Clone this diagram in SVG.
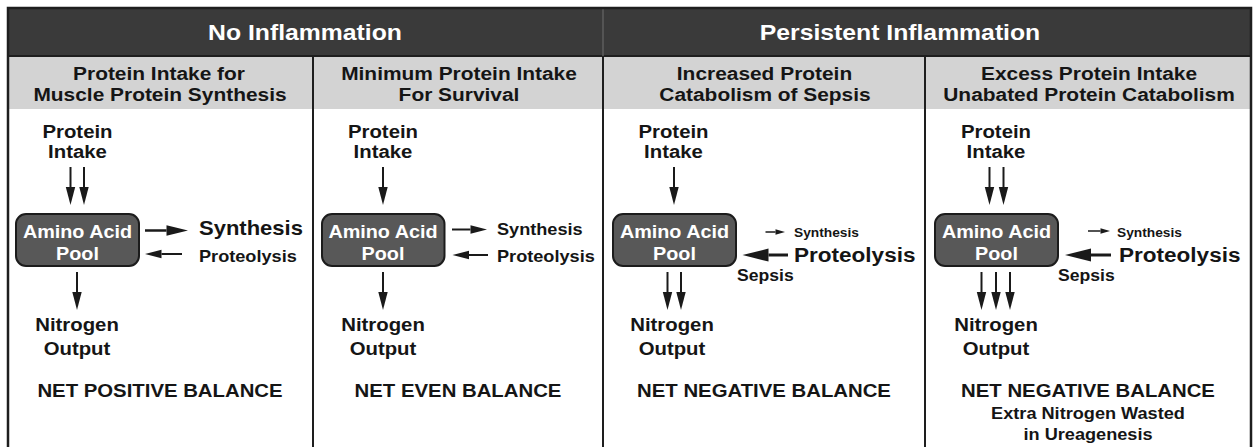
<svg xmlns="http://www.w3.org/2000/svg" width="1256" height="447" viewBox="0 0 1256 447">
<style>
text{font-family:"Liberation Sans",Arial,Helvetica,sans-serif;font-weight:bold;fill:#151515}
.hd{font-size:22.5px;fill:#ffffff}
.sh{font-size:19px}
.lb{font-size:18.5px}
.pl{font-size:18px;fill:#ffffff}
.md{font-size:16.5px}
.bg{font-size:20.5px}
.sm{font-size:12.5px}
.c{text-anchor:middle}
.pool{fill:#585858;stroke:#1c1c1c;stroke-width:2}
.ar{stroke:#1a1a1a;fill:none}
.frame{fill:none;stroke:#1e1e1e;stroke-width:2.5}
.div{stroke:#1e1e1e;stroke-width:2}
</style>
<defs>
<marker id="mStd" markerUnits="userSpaceOnUse" markerWidth="20" markerHeight="12" refX="0" refY="0" orient="auto" overflow="visible"><path d="M0,-4.7 L18,0 L0,4.7 z" fill="#1a1a1a"/></marker>
<marker id="mMid" markerUnits="userSpaceOnUse" markerWidth="20" markerHeight="12" refX="0" refY="0" orient="auto" overflow="visible"><path d="M0,-4.3 L16.5,0 L0,4.3 z" fill="#1a1a1a"/></marker>
<marker id="mBig" markerUnits="userSpaceOnUse" markerWidth="24" markerHeight="12" refX="0" refY="0" orient="auto" overflow="visible"><path d="M0,-5.2 L21.5,0 L0,5.2 z" fill="#1a1a1a"/></marker>
<marker id="mHuge" markerUnits="userSpaceOnUse" markerWidth="28" markerHeight="14" refX="0" refY="0" orient="auto" overflow="visible"><path d="M0,-6.5 L26,0 L0,6.5 z" fill="#1a1a1a"/></marker>
<marker id="mSm" markerUnits="userSpaceOnUse" markerWidth="10" markerHeight="6" refX="0" refY="0" orient="auto" overflow="visible"><path d="M0,-2.8 L9.5,0 L0,2.8 z" fill="#1a1a1a"/></marker>
</defs>
<rect x="0" y="0" width="1256" height="447" fill="#ffffff"/>
<g id="frame">
<rect x="8" y="8" width="1243" height="48" fill="#3a3a3a"/>
<rect x="8" y="56" width="1243" height="53" fill="#d3d3d3"/>
<line class="div" x1="8" y1="56" x2="1251" y2="56"/>
<line x1="603" y1="8" x2="603" y2="56" stroke="#5e5e5e" stroke-width="1.5"/>
<line class="div" x1="603" y1="56" x2="603" y2="447"/>
<line class="div" x1="313" y1="56" x2="313" y2="447"/>
<line class="div" x1="925" y1="56" x2="925" y2="447"/>
<rect class="frame" x="8" y="8" width="1243" height="450"/>
</g>
<g id="header-no-inflammation"><text class="hd c" transform="translate(305,40) scale(1.1,1)">No Inflammation</text></g>
<g id="header-persistent"><text class="hd c" transform="translate(900,40) scale(1.1,1)">Persistent Inflammation</text></g>
<g id="sub1"><text class="sh c" transform="translate(159,80) scale(1.1,1)">Protein Intake for</text><text class="sh c" transform="translate(160,100.5) scale(1.1,1)">Muscle Protein Synthesis</text></g>
<g id="sub2"><text class="sh c" transform="translate(459,80) scale(1.1,1)">Minimum Protein Intake</text><text class="sh c" transform="translate(459,100.5) scale(1.1,1)">For Survival</text></g>
<g id="sub3"><text class="sh c" transform="translate(764.5,80) scale(1.1,1)">Increased Protein</text><text class="sh c" transform="translate(765,100.5) scale(1.1,1)">Catabolism of Sepsis</text></g>
<g id="sub4"><text class="sh c" transform="translate(1089,80) scale(1.1,1)">Excess Protein Intake</text><text class="sh c" transform="translate(1089,100.5) scale(1.1,1)">Unabated Protein Catabolism</text></g>

<g id="p1-intake"><text class="lb c" transform="translate(77.5,138) scale(1.1,1)">Protein</text><text class="lb c" transform="translate(77.5,158) scale(1.1,1)">Intake</text></g>
<g id="p1-pool"><rect class="pool" x="16" y="214" width="123" height="52" rx="10"/><text class="pl c" transform="translate(77.5,237.5) scale(1.1,1)">Amino Acid</text><text class="pl c" transform="translate(77.5,259.5) scale(1.1,1)">Pool</text></g>
<g id="p1-synthesis"><text class="bg" transform="translate(199,235) scale(1.1,1)" style="font-size:20px">Synthesis</text></g>
<g id="p1-proteolysis"><text class="md" transform="translate(199,261.7) scale(1.1,1)">Proteolysis</text></g>
<g id="p1-output"><text class="lb c" transform="translate(77,330.5) scale(1.1,1)">Nitrogen</text><text class="lb c" transform="translate(77,355) scale(1.1,1)">Output</text></g>
<g id="p1-balance"><text class="lb c" transform="translate(160,397.3) scale(1.1,1)">NET POSITIVE BALANCE</text></g>

<g id="p2-intake"><text class="lb c" transform="translate(383,138) scale(1.1,1)">Protein</text><text class="lb c" transform="translate(383,158) scale(1.1,1)">Intake</text></g>
<g id="p2-pool"><rect class="pool" x="322" y="214" width="122.5" height="52" rx="10"/><text class="pl c" transform="translate(383,237.5) scale(1.1,1)">Amino Acid</text><text class="pl c" transform="translate(383,259.5) scale(1.1,1)">Pool</text></g>
<g id="p2-synthesis"><text class="md" transform="translate(497,235) scale(1.1,1)">Synthesis</text></g>
<g id="p2-proteolysis"><text class="md" transform="translate(497,261.7) scale(1.1,1)">Proteolysis</text></g>
<g id="p2-output"><text class="lb c" transform="translate(383,330.5) scale(1.1,1)">Nitrogen</text><text class="lb c" transform="translate(383,355) scale(1.1,1)">Output</text></g>
<g id="p2-balance"><text class="lb c" transform="translate(458,397.3) scale(1.1,1)">NET EVEN BALANCE</text></g>

<g id="p3-intake"><text class="lb c" transform="translate(673.5,138) scale(1.1,1)">Protein</text><text class="lb c" transform="translate(673.5,158) scale(1.1,1)">Intake</text></g>
<g id="p3-pool"><rect class="pool" x="613" y="214" width="123" height="52" rx="10"/><text class="pl c" transform="translate(674.5,237.5) scale(1.1,1)">Amino Acid</text><text class="pl c" transform="translate(674.5,259.5) scale(1.1,1)">Pool</text></g>
<g id="p3-synthesis"><text class="sm" transform="translate(794,236.7) scale(1.1,1)">Synthesis</text></g>
<g id="p3-proteolysis"><text class="bg" transform="translate(794,261.7) scale(1.1,1)">Proteolysis</text></g>
<g id="p3-sepsis"><text class="md" transform="translate(737,280.7) scale(1.1,1)" style="font-size:16px">Sepsis</text></g>
<g id="p3-output"><text class="lb c" transform="translate(672,330.5) scale(1.1,1)">Nitrogen</text><text class="lb c" transform="translate(672,355) scale(1.1,1)">Output</text></g>
<g id="p3-balance"><text class="lb c" transform="translate(764,397.3) scale(1.1,1)">NET NEGATIVE BALANCE</text></g>

<g id="p4-intake"><text class="lb c" transform="translate(996,138) scale(1.1,1)">Protein</text><text class="lb c" transform="translate(996,158) scale(1.1,1)">Intake</text></g>
<g id="p4-pool"><rect class="pool" x="935" y="214" width="123" height="52" rx="10"/><text class="pl c" transform="translate(996.5,237.5) scale(1.1,1)">Amino Acid</text><text class="pl c" transform="translate(996.5,259.5) scale(1.1,1)">Pool</text></g>
<g id="p4-synthesis"><text class="sm" transform="translate(1117,236.7) scale(1.1,1)">Synthesis</text></g>
<g id="p4-proteolysis"><text class="bg" transform="translate(1119,261.7) scale(1.1,1)">Proteolysis</text></g>
<g id="p4-sepsis"><text class="md" transform="translate(1058,280.7) scale(1.1,1)" style="font-size:16px">Sepsis</text></g>
<g id="p4-output"><text class="lb c" transform="translate(996,330.5) scale(1.1,1)">Nitrogen</text><text class="lb c" transform="translate(996,355) scale(1.1,1)">Output</text></g>
<g id="p4-balance"><text class="lb c" transform="translate(1088,397.3) scale(1.1,1)">NET NEGATIVE BALANCE</text><text class="md c" transform="translate(1088,419.3) scale(1.1,1)">Extra Nitrogen Wasted</text><text class="md c" transform="translate(1088,440) scale(1.1,1)">in Ureagenesis</text></g>

<g id="connectors" class="ar">
<line x1="70.5" y1="167" x2="70.5" y2="187" stroke-width="2" marker-end="url(#mStd)"/>
<line x1="84" y1="167" x2="84" y2="187" stroke-width="2" marker-end="url(#mStd)"/>
<line x1="145" y1="230.5" x2="166.5" y2="230.5" stroke-width="2.5" marker-end="url(#mBig)"/>
<line x1="182" y1="254" x2="161.5" y2="254" stroke-width="2" marker-end="url(#mMid)"/>
<line x1="77" y1="272" x2="77" y2="292" stroke-width="2" marker-end="url(#mStd)"/>
<line x1="383" y1="167" x2="383" y2="187" stroke-width="2" marker-end="url(#mStd)"/>
<line x1="452" y1="229.5" x2="470.5" y2="229.5" stroke-width="2" marker-end="url(#mMid)"/>
<line x1="488" y1="255" x2="469" y2="255" stroke-width="2" marker-end="url(#mMid)"/>
<line x1="383" y1="272" x2="383" y2="292" stroke-width="2" marker-end="url(#mStd)"/>
<line x1="674" y1="167" x2="674" y2="187" stroke-width="2" marker-end="url(#mStd)"/>
<line x1="765.5" y1="232" x2="775.5" y2="232" stroke-width="1.5" marker-end="url(#mSm)"/>
<line x1="788" y1="255" x2="768.5" y2="255" stroke-width="3" marker-end="url(#mHuge)"/>
<line x1="667.5" y1="272" x2="667.5" y2="292" stroke-width="2" marker-end="url(#mStd)"/>
<line x1="681" y1="272" x2="681" y2="292" stroke-width="2" marker-end="url(#mStd)"/>
<line x1="989.5" y1="167" x2="989.5" y2="187" stroke-width="2" marker-end="url(#mStd)"/>
<line x1="1003.5" y1="167" x2="1003.5" y2="187" stroke-width="2" marker-end="url(#mStd)"/>
<line x1="1088" y1="231" x2="1100.5" y2="231" stroke-width="1.5" marker-end="url(#mSm)"/>
<line x1="1111" y1="255" x2="1091" y2="255" stroke-width="3" marker-end="url(#mHuge)"/>
<line x1="981.5" y1="272" x2="981.5" y2="292" stroke-width="2" marker-end="url(#mStd)"/>
<line x1="996" y1="272" x2="996" y2="292" stroke-width="2" marker-end="url(#mStd)"/>
<line x1="1010" y1="272" x2="1010" y2="292" stroke-width="2" marker-end="url(#mStd)"/>
</g>
</svg>
